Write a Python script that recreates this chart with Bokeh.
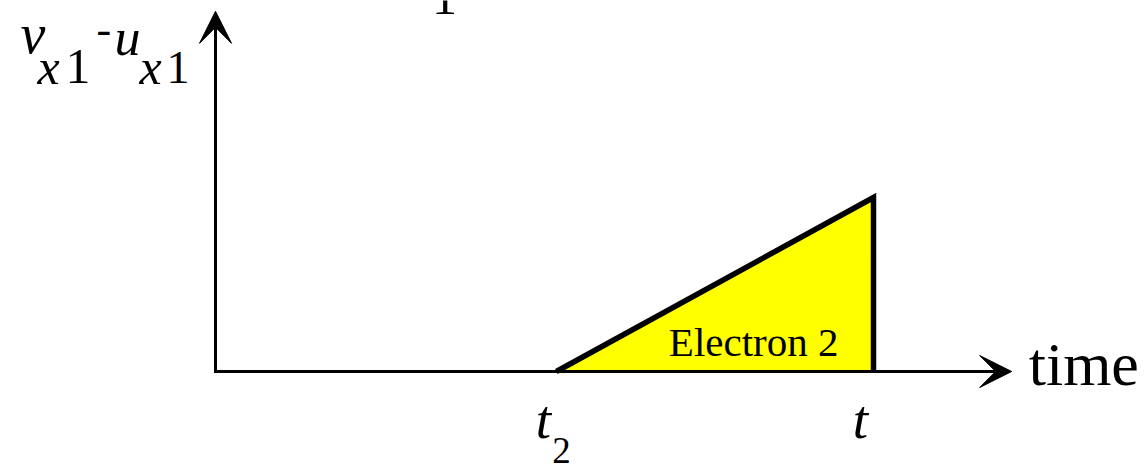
from bokeh.plotting import figure
from bokeh.models import Range1d, Arrow, VeeHead, Label
from bokeh.core.properties import value
from bokeh.embed import file_html
from bokeh.resources import INLINE

# Relative velocity of electron 1 vs time: electron 2 contributes a linear ramp
# starting at t2 and ending at the observation time t.
mark_names = ["t", "t"]
mark_subs = ["2", ""]
mark_times = [5.18, 10.0]          # t2, t
ramp_time = [5.18, 10.0, 10.0]     # triangle vertices (time)
ramp_dv = [0.0, 1.0, 0.0]          # triangle vertices (velocity difference)
ramp_label = "Electron 2"
time_axis_end = 12.1
dv_axis_end = 2.07

W, H = 1146, 468
ORIGIN_X, ORIGIN_Y = 215, 371      # pixel position of the axes' corner
SX, SY = 65.8, 174.0               # pixels per data unit

SERIF = value("Liberation Serif")
BASE_FIX = 0.34                    # baseline correction, in ems


def lift(size):
    """Pixels to raise a text so that its alphabetic baseline lands where asked."""
    return BASE_FIX * size


p = figure(
    width=W, height=H,
    x_range=Range1d(-ORIGIN_X / SX, (W - ORIGIN_X) / SX),
    y_range=Range1d(-(H - ORIGIN_Y) / SY, ORIGIN_Y / SY),
    x_axis_type=None, y_axis_type=None,
    output_backend="svg", toolbar_location=None,
    min_border=0, outline_line_color=None,
    background_fill_color="white", border_fill_color="white",
)
p.grid.visible = False

# yellow area under the ramp
p.patch(ramp_time, ramp_dv, fill_color="#ffff00", line_color=None)
# thick outline of the ramp and its vertical drop at t
p.line(ramp_time, ramp_dv, line_color="black", line_width=5.5, line_join="miter")

# axes drawn as arrows
for xe, ye in [(time_axis_end, 0.0), (0.0, dv_axis_end)]:
    p.add_layout(Arrow(
        x_start=0, y_start=0, x_end=xe, y_end=ye,
        line_color="black", line_width=3, line_cap="square",
        end=VeeHead(size=32, fill_color="black", line_color="black", line_width=1),
    ))


def data_text(xs, txt, dx, baseline_below_axis, size, italic=False, align="left"):
    p.text(x=xs, y=[0] * len(xs), text=txt, x_offset=dx,
           y_offset=baseline_below_axis - lift(size),
           text_font=SERIF, text_font_size=f"{size}px",
           text_font_style="italic" if italic else "normal",
           text_align=align, text_baseline="alphabetic", text_color="black")


# tick-style labels under the time axis
data_text(mark_times, mark_names, -13, 67, 55, italic=True, align="center")
data_text(mark_times, mark_subs, -4, 92, 37)
# axis title on the time axis
data_text([time_axis_end], ["time"], 17, 14, 62)
# label inside the triangle
data_text([mark_times[1]], [ramp_label], -35, -16, 41, align="right")


# vertical axis title: v_x1 - u_x1
def put(txt, x, baseline, size, italic=False, align="left"):
    p.add_layout(Label(
        x=x, y=H - baseline + lift(size), x_units="screen", y_units="screen", text=txt,
        text_font="Liberation Serif", text_font_size=f"{size}px",
        text_font_style="italic" if italic else "normal",
        text_baseline="alphabetic", text_align=align, text_color="black",
    ))


put("v", 20, 53, 56, italic=True)
put("x", 37, 83, 50, italic=True)
put("1", 65, 83, 50)
put("-", 96, 44, 44)
put("u", 114, 55, 52, italic=True)
put("x", 139, 83, 50, italic=True)
put("1", 166, 83, 46)

# fragment of a character cut off at the top edge
put("1", 444, 14, 50, align="center")

open("out.html", "w").write(file_html(p, INLINE))
